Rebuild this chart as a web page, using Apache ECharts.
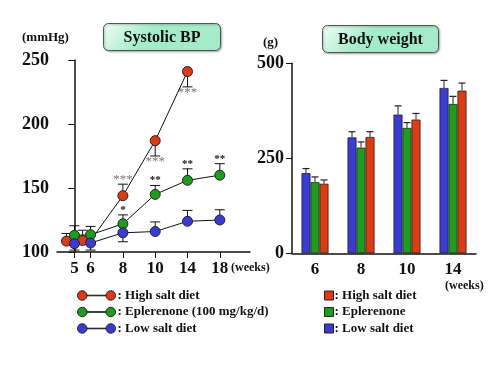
<!DOCTYPE html>
<html><head><meta charset="utf-8">
<script src="https://cdn.jsdelivr.net/npm/echarts@6/dist/echarts.min.js"></script>
<style>html,body{margin:0;padding:0;background:#fff}#c{width:500px;height:375px}</style>
</head><body><div id="c"></div>
<script>
// ---- Systolic BP (left panel) ----
const sbpWeeks = [5, 6, 8, 10, 14, 18];
const sbpSlots = [0, 1, 3, 5, 7, 9]; // place of each week on the drawn (uneven) time axis
const sbpHigh = [108.5, 109, 144, 187, 241];
const sbpHighErr = [6, 8, 9, -12, -12];
const sbpHighSig = ['', '', '***', '***', '***'];
const sbpEple = [113, 113.5, 122, 145, 156, 160];
const sbpEpleErr = [7.5, 6.5, 7, 7, 9, 9];
const sbpEpleSig = ['', '', '*', '**', '**', '**'];
const sbpLow = [106.5, 107, 115, 116, 124, 125];
const sbpLowErr = [-5, -5.5, -7, 7.5, 8.5, 8];
const sbpTicks = [100, 150, 200, 250];

// ---- Body weight (right panel) ----
const bwWeeks = ['6', '8', '10', '14'];
const bwLow = [211, 305, 365, 435];
const bwLowErr = [12, 15, 23, 20];
const bwEple = [187, 278, 330, 393];
const bwEpleErr = [14, 15, 14, 20];
const bwHigh = [183, 306, 352, 428];
const bwHighErr = [10, 14, 16, 20];
const bwTicks = [0, 250, 500];

const lineNames = ['High salt diet', 'Eplerenone (100 mg/kg/d)', 'Low salt diet'];
const barNames = ['High salt diet', 'Eplerenone', 'Low salt diet'];

const RED = '#e03a12', GREEN = '#1c9e1c', BLUE = '#3a3ad6';
const FONT = "'Liberation Serif','Times New Roman',serif";
const redShift = [-8, -8, 0, 0, 0]; // red markers drawn slightly left at weeks 5, 6 in the original

const chart = echarts.init(document.getElementById('c'), null, {renderer: 'canvas'});

function lineSeries(name, vals, color, shift) {
  return {
    type: 'line', name, xAxisIndex: 0, yAxisIndex: 0, z: 3,
    data: vals.map((v, i) => {
      const d = {value: [sbpSlots[i], v]};
      if (shift && shift[i]) d.symbolOffset = [shift[i], 0];
      return d;
    }),
    symbol: 'circle', symbolSize: 10,
    lineStyle: {color: '#111', width: 1},
    itemStyle: {color, borderColor: '#222', borderWidth: 1},
    emphasis: {disabled: true}, animation: false
  };
}

function lineErr(vals, errs, sigs, shift, sigStyle) {
  return {
    type: 'custom', xAxisIndex: 0, yAxisIndex: 0, z: 2, silent: true, animation: false,
    data: vals.map((v, i) => [sbpSlots[i], v, errs[i], i]),
    encode: {x: 0, y: 1},
    renderItem(params, api) {
      const x = api.value(0), v = api.value(1), e = api.value(2), i = api.value(3);
      const p = api.coord([x, v]), q = api.coord([x, v + e]);
      const cx = p[0] + (shift ? shift[i] : 0);
      const ch = [
        {type: 'line', shape: {x1: cx, y1: p[1], x2: cx, y2: q[1]}, style: {stroke: '#111', lineWidth: 1}},
        {type: 'line', shape: {x1: cx - 5, y1: q[1], x2: cx + 5, y2: q[1]}, style: {stroke: '#111', lineWidth: 1}}
      ];
      const s = sigs ? sigs[i] : '';
      if (s) ch.push({type: 'text', style: Object.assign({text: s, x: cx, y: e > 0 ? q[1] - 5 : q[1] + 6,
        align: 'center', verticalAlign: 'middle', fontFamily: FONT}, sigStyle)});
      return {type: 'group', children: ch};
    }
  };
}

function barSeries(name, vals, color) {
  return {
    type: 'bar', name, xAxisIndex: 1, yAxisIndex: 1, data: vals, barWidth: 9, barGap: '0%',
    itemStyle: {color, borderColor: '#222', borderWidth: 0.8}, emphasis: {disabled: true}, animation: false, z: 2
  };
}

function barErr(vals, errs, offset) {
  return {
    type: 'custom', xAxisIndex: 1, yAxisIndex: 1, z: 3, silent: true, animation: false,
    data: vals.map((v, i) => [i, v, errs[i]]),
    encode: {x: 0, y: 1},
    renderItem(params, api) {
      const p = api.coord([api.value(0), api.value(1)]);
      const q = api.coord([api.value(0), api.value(1) + api.value(2)]);
      const cx = p[0] + offset;
      return {type: 'group', children: [
        {type: 'line', shape: {x1: cx, y1: p[1], x2: cx, y2: q[1]}, style: {stroke: '#222', lineWidth: 1}},
        {type: 'line', shape: {x1: cx - 3.5, y1: q[1], x2: cx + 3.5, y2: q[1]}, style: {stroke: '#222', lineWidth: 1.2}}
      ]};
    }
  };
}

const axisLine = {show: true, lineStyle: {color: '#111', width: 1.5}};
const labelFont = {fontFamily: FONT, fontWeight: 'bold', color: '#111'};

function titleBox(x, y, w, h, text) {
  return {type: 'group', left: x, top: y, children: [
    {type: 'rect', shape: {x: 0, y: 0, width: w, height: h, r: 5},
      style: {fill: {type: 'linear', x: 0, y: 0, x2: 0.25, y2: 1, colorStops: [
        {offset: 0, color: '#f4fffa'}, {offset: 1, color: '#a4ebc9'}]},
        stroke: '#555', lineWidth: 1, shadowBlur: 2, shadowOffsetX: 1, shadowOffsetY: 1, shadowColor: 'rgba(0,0,0,0.3)'}},
    {type: 'text', style: {text, x: w / 2, y: h / 2 + 1, align: 'center', verticalAlign: 'middle',
      font: "bold 16px 'Liberation Serif', serif", fill: '#111'}}
  ]};
}

const option = {
  backgroundColor: '#fff',
  animation: false,
  grid: [
    {left: 57, top: 60, width: 193, height: 192},
    {left: 292, top: 63.3, width: 184, height: 190}
  ],
  xAxis: [
    {type: 'value', gridIndex: 0, min: -1.08, max: 10.87,
      axisLine, splitLine: {show: false},
      axisTick: {show: true, customValues: sbpSlots, length: 6, lineStyle: {color: '#111'}},
      axisLabel: Object.assign({customValues: sbpSlots, fontSize: 17, margin: 8,
        formatter: v => String(sbpWeeks[sbpSlots.indexOf(v)])}, labelFont)},
    {type: 'category', gridIndex: 1, data: bwWeeks,
      axisLine, axisTick: {show: false},
      axisLabel: Object.assign({fontSize: 17, margin: 8}, labelFont)}
  ],
  yAxis: [
    {type: 'value', gridIndex: 0, min: sbpTicks[0], max: sbpTicks[sbpTicks.length - 1], interval: 50,
      axisLine, splitLine: {show: false},
      axisTick: {show: true, length: 6, lineStyle: {color: '#111'}},
      axisLabel: Object.assign({fontSize: 18, margin: 8}, labelFont)},
    {type: 'value', gridIndex: 1, min: bwTicks[0], max: bwTicks[bwTicks.length - 1], interval: 250,
      axisLine, splitLine: {show: false},
      axisTick: {show: true, length: 6, lineStyle: {color: '#111'}},
      axisLabel: Object.assign({fontSize: 18, margin: 8}, labelFont)}
  ],
  legend: [
    {data: lineNames, orient: 'vertical', left: 72, top: 284, itemWidth: 38, itemHeight: 10, itemGap: 3.5,
      icon: 'path://M0,5A5,5,0,1,1,10,5A5,5,0,1,1,0,5Z M10,4.7L30,4.7L30,5.3L10,5.3Z M30,5A5,5,0,1,1,40,5A5,5,0,1,1,30,5Z',
      itemStyle: {borderColor: '#222', borderWidth: 1},
      formatter: n => ': ' + n, selectedMode: false,
      textStyle: {fontFamily: FONT, fontWeight: 'bold', fontSize: 13, color: '#111', padding: [0, 0, 0, -3]}},
    {data: barNames, orient: 'vertical', left: 319, top: 284, itemWidth: 9, itemHeight: 9, itemGap: 3.5,
      icon: 'rect', itemStyle: {borderColor: '#222', borderWidth: 1},
      formatter: n => ': ' + n, selectedMode: false,
      textStyle: {fontFamily: FONT, fontWeight: 'bold', fontSize: 13, color: '#111', padding: [0, 0, 0, -4]}}
  ],
  series: [
    barSeries(barNames[2], bwLow, BLUE),
    barSeries(barNames[1], bwEple, GREEN),
    barSeries(barNames[0], bwHigh, RED),
    barErr(bwLow, bwLowErr, -9),
    barErr(bwEple, bwEpleErr, 0),
    barErr(bwHigh, bwHighErr, 9),
    lineErr(sbpHigh, sbpHighErr, sbpHighSig, redShift, {fontSize: 13, fill: '#777'}),
    lineErr(sbpEple, sbpEpleErr, sbpEpleSig, null, {fontSize: 11, fontWeight: 'bold', fill: '#111'}),
    lineErr(sbpLow, sbpLowErr, null, null, {}),
    lineSeries(lineNames[0], sbpHigh, RED, redShift),
    lineSeries(lineNames[1], sbpEple, GREEN),
    lineSeries(lineNames[2], sbpLow, BLUE)
  ],
  graphic: [
    titleBox(103, 23, 117, 27, 'Systolic BP'),
    titleBox(322, 25, 116, 27, 'Body weight'),
    {type: 'text', left: 22, top: 31, style: {text: '(mmHg)', font: "bold 13px 'Liberation Serif', serif", fill: '#111'}},
    {type: 'text', left: 263, top: 36, style: {text: '(g)', font: "bold 13px 'Liberation Serif', serif", fill: '#111'}},
    {type: 'text', left: 231, top: 262, style: {text: '(weeks)', font: "bold 12px 'Liberation Serif', serif", fill: '#111'}},
    {type: 'text', left: 445, top: 280, style: {text: '(weeks)', font: "bold 12px 'Liberation Serif', serif", fill: '#111'}}
  ]
};
chart.setOption(option);
</script>
</body></html>
